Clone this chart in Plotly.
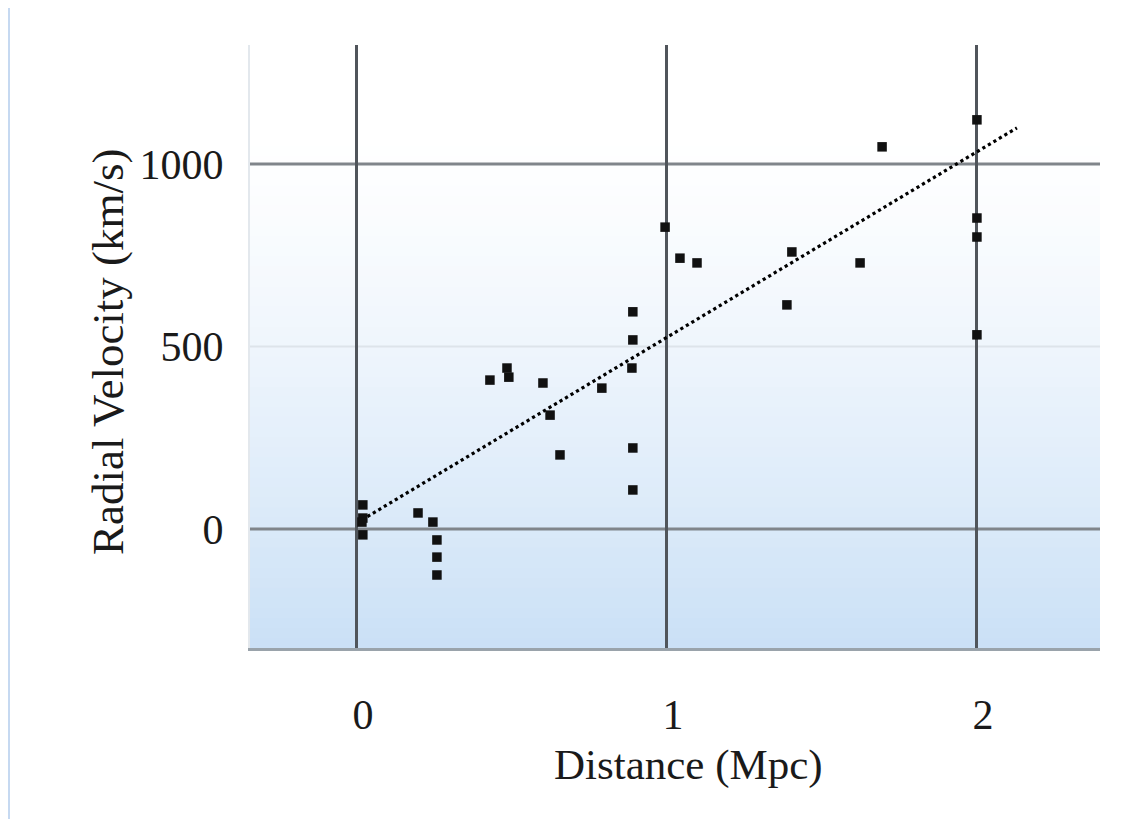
import plotly.graph_objects as go

# ---- data ----
distance_mpc = [0.019, 0.019, 0.016, 0.019, 0.197, 0.245, 0.258, 0.258, 0.258,
                0.429, 0.484, 0.490, 0.600, 0.623, 0.655, 0.790,
                0.890, 0.890, 0.887, 0.890, 0.890,
                0.994, 1.042, 1.097, 1.387, 1.403, 1.623, 1.694,
                2.0, 2.0, 2.0, 2.0]
velocity_kms = [66, 30, 19, -16, 44, 19, -30, -77, -126,
                408, 441, 416, 400, 312, 203, 386,
                595, 518, 441, 222, 107,
                827, 742, 729, 614, 759, 729, 1047,
                1121, 852, 800, 532]
fit_x = [0.016, 2.129]
fit_y = [25, 1099]

x_ticks = [0, 1, 2]
y_ticks = [0, 500, 1000]
y_strong_grid = [0, 1000]
y_faint_grid = [500]
x_title = "Distance (Mpc)"
y_title = "Radial Velocity (km/s)"

# ---- layout constants (page body has an 8px default margin) ----
OFF = 8
WIN_W, WIN_H = 1142, 819
W, H = WIN_W - OFF, WIN_H - OFF
ML, MR, MT, MB = 250 - OFF, 42, 45 - OFF, 171
PW, PH = W - ML - MR, H - MT - MB
FONT = "Liberation Serif, Times New Roman, serif"

def px_to_paper_x(px):
    return (px - OFF - ML) / PW

def py_to_paper_y(py):
    return (H - MB - (py - OFF)) / PH

shapes = []
# background gradient inside plotting area (white top -> light blue bottom)
N = 60
top_rgb = (255, 255, 255)
bot_rgb = (202, 224, 246)
for i in range(N):
    t0 = i / N
    t1 = (i + 1) / N
    f = (1 - (t0 + t1) / 2)
    f = max(0.0, (f - 0.15) / 0.85) ** 1.3
    c = tuple(round(top_rgb[k] + (bot_rgb[k] - top_rgb[k]) * f) for k in range(3))
    shapes.append(dict(type="rect", xref="paper", yref="paper",
                       x0=0, x1=1, y0=t0, y1=t1 + 0.002,
                       fillcolor=f"rgb{c}", line=dict(width=0), layer="below"))

# visible part of the light-blue frame on the left edge
frame = "#c6d9f1"
shapes.append(dict(type="rect", xref="paper", yref="paper",
                   x0=px_to_paper_x(OFF), x1=px_to_paper_x(10),
                   y0=py_to_paper_y(WIN_H + 5), y1=py_to_paper_y(OFF),
                   fillcolor=frame, line=dict(width=0), layer="below"))

# horizontal grid lines
for v in y_strong_grid:
    shapes.append(dict(type="line", xref="paper", yref="y", x0=0, x1=1, y0=v, y1=v,
                       line=dict(color="#80858b", width=3), layer="below"))
for v in y_faint_grid:
    shapes.append(dict(type="line", xref="paper", yref="y", x0=0, x1=1, y0=v, y1=v,
                       line=dict(color="#dde4ea", width=2), layer="below"))

annotations = [
    dict(text=x_title, xref="paper", yref="paper",
         x=px_to_paper_x(688), y=py_to_paper_y(765),
         xanchor="center", yanchor="middle", showarrow=False,
         font=dict(family=FONT, size=43, color="#1a1a1a")),
    dict(text=y_title, xref="paper", yref="paper",
         x=px_to_paper_x(108), y=py_to_paper_y(352), textangle=-90,
         xanchor="center", yanchor="middle", showarrow=False,
         font=dict(family=FONT, size=45, color="#1a1a1a")),
]

fig = go.Figure()
fig.add_trace(go.Scatter(x=fit_x, y=fit_y, mode="lines",
                         line=dict(color="black", width=3.2, dash="dot"),
                         showlegend=False, hoverinfo="skip"))
fig.add_trace(go.Scatter(x=distance_mpc, y=velocity_kms, mode="markers",
                         marker=dict(symbol="square", size=9.5, color="#111111"),
                         showlegend=False))

fig.update_layout(
    width=W, height=H,
    margin=dict(l=ML, r=MR, t=MT, b=MB, autoexpand=False),
    paper_bgcolor="white", plot_bgcolor="rgba(0,0,0,0)",
    font=dict(family=FONT, size=42, color="#1a1a1a"),
    shapes=shapes,
    annotations=annotations,
    xaxis=dict(range=[-0.345, 2.397], tickvals=x_ticks, ticktext=[str(t) for t in x_ticks],
               showgrid=True, gridcolor="#50555b", gridwidth=3, zeroline=False,
               showline=True, linecolor="#9aa3ab", linewidth=3, mirror=False,
               ticks="", ticklabelstandoff=28, ticklabelshift=6,
               tickfont=dict(size=42), fixedrange=True),
    yaxis=dict(range=[-326, 1326], tickvals=y_ticks, ticktext=[str(t) for t in y_ticks],
               showgrid=False, zeroline=False,
               showline=True, linecolor="#e3e8ed", linewidth=2,
               ticks="", ticklabelstandoff=16,
               tickfont=dict(size=42), fixedrange=True),
)

fig.write_html("out.html")
